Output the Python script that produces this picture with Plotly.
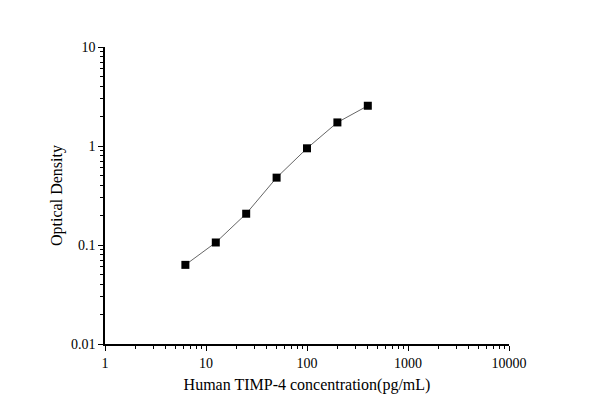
import plotly.graph_objects as go

conc = [6.25, 12.5, 25, 50, 100, 200, 400]
od = [0.063, 0.106, 0.207, 0.479, 0.948, 1.73, 2.55]
x_ticks = [1, 10, 100, 1000, 10000]
x_labels = ["1", "10", "100", "1000", "10000"]
y_ticks = [0.01, 0.1, 1, 10]
y_labels = ["0.01", "0.1", "1", "10"]

# minor ticks at 2..9 within each decade
x_minor = [m * d for d in x_ticks[:-1] for m in range(2, 10)]
y_minor = [m * d for d in y_ticks[:-1] for m in range(2, 10)]

fig = go.Figure()
fig.add_trace(go.Scatter(
    x=conc, y=od, mode="lines+markers",
    line=dict(color="#666666", width=1),
    marker=dict(symbol="square", size=8, color="black"),
))

axis_common = dict(
    type="log", showgrid=False, zeroline=False,
    showline=True, linecolor="black", linewidth=1.5,
    ticks="outside", ticklen=5, tickwidth=1.2, tickcolor="black",
    tickfont=dict(family="Liberation Serif", size=14, color="black"),
    tickmode="array",
)
fig.update_xaxes(axis_common, range=[0, 4], tickvals=x_ticks, ticktext=x_labels,
                 minor=dict(tickmode="array", tickvals=x_minor, ticks="outside",
                            ticklen=3, tickwidth=1, tickcolor="black", showgrid=False),
                 title=dict(text="Human TIMP-4 concentration(pg/mL)",
                            font=dict(family="Liberation Serif", size=16, color="black"),
                            standoff=9))
fig.update_yaxes(axis_common, range=[-2, 1], tickvals=y_ticks, ticktext=y_labels,
                 minor=dict(tickmode="array", tickvals=y_minor, ticks="outside",
                            ticklen=3, tickwidth=1, tickcolor="black", showgrid=False),
                 title=dict(text="Optical Density",
                            font=dict(family="Liberation Serif", size=16, color="black"),
                            standoff=4))

fig.update_layout(
    width=590, height=412,
    margin=dict(l=97, r=89, t=39, b=76),
    plot_bgcolor="white", paper_bgcolor="white",
    showlegend=False,
)
fig.write_html("out.html")
